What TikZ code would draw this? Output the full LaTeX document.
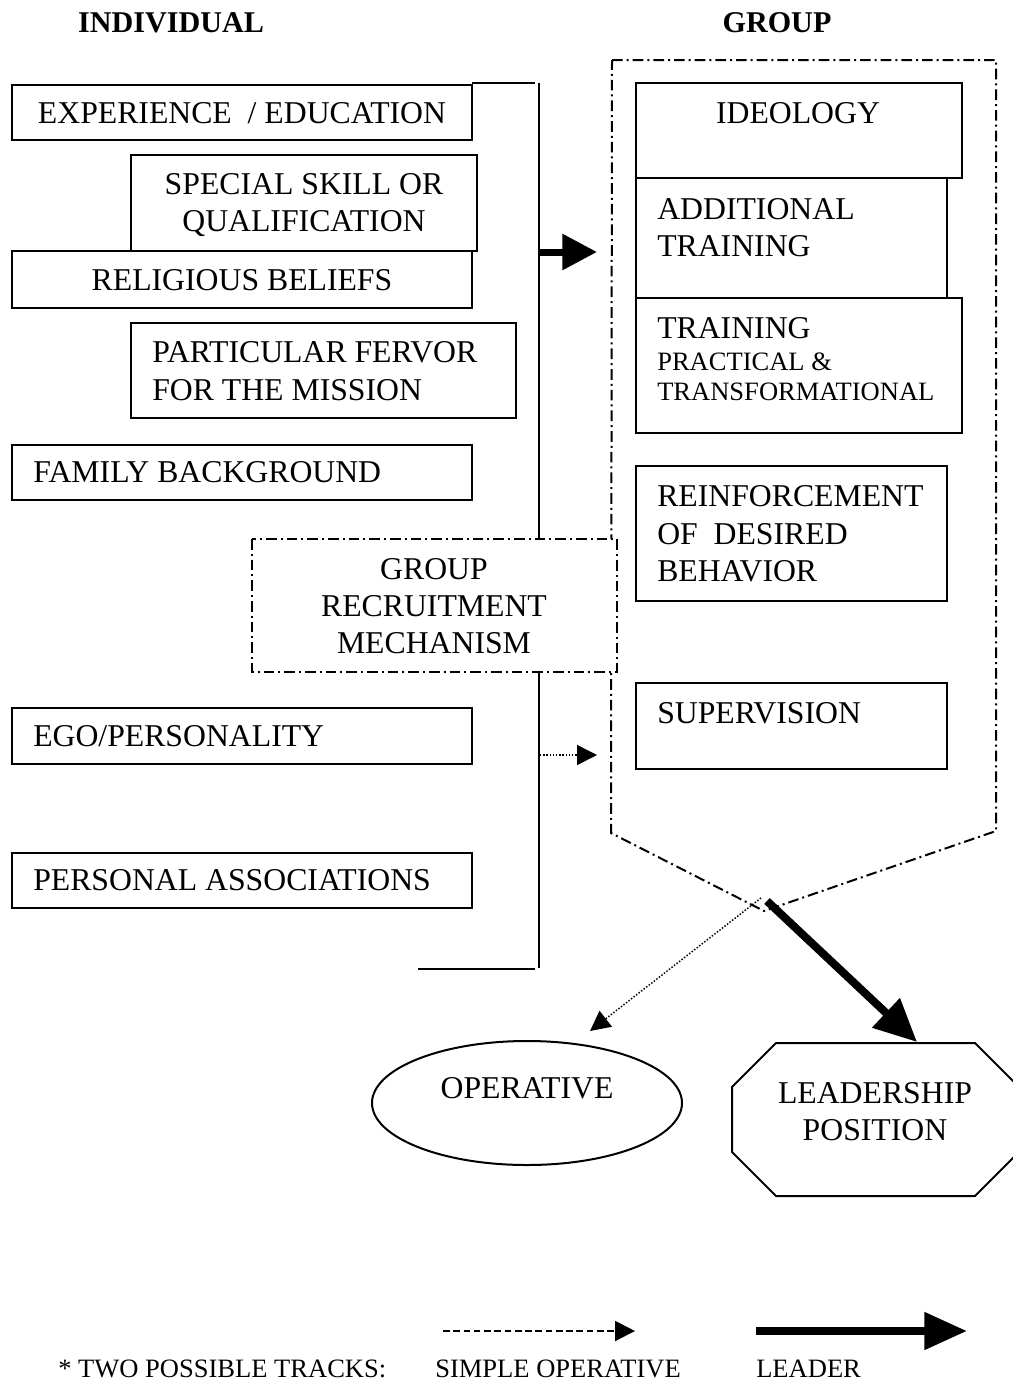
\documentclass[tikz,border=0pt]{standalone}
\usepackage{fontspec}
\setmainfont{Liberation Serif}
\usetikzlibrary{arrows.meta,shapes.geometric}

\newcommand\mainsz{\fontsize{23.8pt}{28pt}\selectfont}
\newcommand\smallsz{\fontsize{19.9pt}{24pt}\selectfont}
\newcommand\headsz{\fontsize{22.6pt}{27pt}\selectfont\bfseries}

% rectangle node from its corner coordinates: [options]{name}{x1}{y1}{x2}{y2}
\newcommand\boxat[6][]{%
  \node[box,#1,minimum width={(#5-#3)*0.75pt},minimum height={(#6-#4)*0.75pt}]
    (#2) at ({(#3+#5)/2},{(#4+#6)/2}) {};}

\tikzset{
  box/.style={draw, line width=1.5pt, inner sep=0pt, outer sep=0pt},
  dashdot/.style={line width=1.5pt, dash pattern=on 8pt off 3pt on 1.5pt off 3pt},
  txt/.style={inner sep=0pt, font=\mainsz},
  smalltxt/.style={inner sep=0pt, font=\smallsz},
  headtxt/.style={inner sep=0pt, font=\headsz},
  bracket/.style={line width=1.5pt},
  dotline/.style={line width=1.1pt, dash pattern=on 1.1pt off 1.3pt},
  joinarrow/.style={line width=5.25pt, -{Triangle[length=26pt,width=26pt]}},
  leaderarrow/.style={line width=6pt, -{Triangle[length=32pt,width=29pt]}},
  legendlead/.style={line width=6pt, -{Triangle[length=32pt,width=27pt]}},
  operarrow/.style={dotline, -{Triangle[length=15pt,width=15pt]}},
  legendoper/.style={line width=1.5pt, dash pattern=on 5pt off 2.7pt,
                     -{Triangle[length=15pt,width=15pt]}},
}

\begin{document}
\begin{tikzpicture}[x=0.75pt,y=-0.75pt]
\useasboundingbox (0,0) rectangle (1013,1382);

% headings
\node[headtxt, anchor=base] (hind) at (171,32) {INDIVIDUAL};
\node[headtxt, anchor=base] (hgrp) at (777,32) {GROUP};

% individual factors
\boxat{exp}{12}{85}{472}{140}
\node[txt, anchor=base] (exp-t) at (242,123.5) {EXPERIENCE\ \ / EDUCATION};
\boxat{skill}{131}{155}{477}{251}
\node[txt, anchor=base] (skill-t1) at (304,194.5) {SPECIAL SKILL OR};
\node[txt, anchor=base] (skill-t2) at (304,231.5) {QUALIFICATION};
\boxat{rel}{12}{251}{472}{308}
\node[txt, anchor=base] (rel-t) at (242,290.5) {RELIGIOUS BELIEFS};
\boxat{fervor}{131}{323}{516}{418}
\node[txt, anchor=base west] (fervor-t1) at (152,362.5) {PARTICULAR FERVOR};
\node[txt, anchor=base west] (fervor-t2) at (152,400.5) {FOR THE MISSION};
\boxat{fam}{12}{445}{472}{500}
\node[txt, anchor=base west] (fam-t) at (33,482.5) {FAMILY BACKGROUND};
\boxat{ego}{12}{708}{472}{764}
\node[txt, anchor=base west] (ego-t) at (33,746.5) {EGO/PERSONALITY};
\boxat{assoc}{12}{853}{472}{908}
\node[txt, anchor=base west] (assoc-t) at (33,890.5) {PERSONAL ASSOCIATIONS};

% bracket gathering the individual factors
\coordinate (brk-top) at (539,83);
\coordinate (brk-bot) at (539,968);
\coordinate (brk-topend) at (472,83);
\coordinate (brk-topin) at (535,83);
\coordinate (brk-botend) at (418,969);
\coordinate (brk-botin) at (535,969);
\draw[bracket] (brk-topend) -- (brk-topin);
\draw[bracket] (brk-top) -- (brk-bot);
\draw[bracket] (brk-botend) -- (brk-botin);

% group frame
\coordinate (g-tl) at (612,60);
\coordinate (g-tr) at (996,60);
\coordinate (g-br) at (996,831);
\coordinate (g-apex) at (764,911);
\coordinate (g-bl) at (611,833);
\draw[dashdot] (g-tl) -- (g-tr) -- (g-br) -- (g-apex) -- (g-bl) -- cycle;

% group factors
\boxat{ideo}{636}{83}{962}{178}
\node[txt, anchor=base] (ideo-t) at (798,123.5) {IDEOLOGY};
\boxat{addtr}{636}{178}{947}{298}
\node[txt, anchor=base west] (addtr-t1) at (657,219.5) {ADDITIONAL};
\node[txt, anchor=base west] (addtr-t2) at (657,256.5) {TRAINING};
\boxat{train}{636}{298}{962}{433}
\node[txt, anchor=base west] (train-t1) at (657,338.5) {TRAINING};
\node[smalltxt, anchor=base west] (train-t2) at (657,370.8) {PRACTICAL \&};
\node[smalltxt, anchor=base west] (train-t3) at (657,400.8) {TRANSFORMATIONAL};
\boxat{reinf}{636}{466}{947}{601}
\node[txt, anchor=base west] (reinf-t1) at (657,506.5) {REINFORCEMENT};
\node[txt, anchor=base west] (reinf-t2) at (657,544.5) {OF\ \ DESIRED};
\node[txt, anchor=base west] (reinf-t3) at (657,581.5) {BEHAVIOR};
\boxat{superv}{636}{683}{947}{769}
\node[txt, anchor=base west] (superv-t) at (657,723.5) {SUPERVISION};

% recruitment mechanism, laid over the bracket and the frame
\boxat[draw=none, fill=white]{recruit}{252}{539}{617}{672}
\draw[dashdot] (recruit.north west) rectangle (recruit.south east);
\node[txt, anchor=base] (recruit-t1) at (434,579.5) {GROUP};
\node[txt, anchor=base] (recruit-t2) at (434,616.5) {RECRUITMENT};
\node[txt, anchor=base] (recruit-t3) at (434,653.5) {MECHANISM};

% entry arrows into the group
\coordinate (brk-mid) at (539,252);
\coordinate (grp-in) at (597,252);
\draw[joinarrow] (brk-mid) -- (grp-in);
\coordinate (brk-low) at (540,755);
\coordinate (grp-in2) at (597,755);
\draw[operarrow] (brk-low) -- (grp-in2);

% outcomes
\node[draw, ellipse, line width=1.5pt, minimum width={310*0.75pt},
      minimum height={124*0.75pt}, inner sep=0pt] (oper) at (527,1103) {};
\node[txt, anchor=base] (oper-t) at (527,1098.5) {OPERATIVE};

\node[inner sep=0pt, minimum width={287*0.75pt}, minimum height={153*0.75pt}]
  (lead) at (875.5,1119.5) {};
\draw[line width=1.5pt] (776,1043) -- (975,1043) -- (1019,1087) -- (1019,1152)
  -- (975,1196) -- (776,1196) -- (732,1152) -- (732,1087) -- cycle;
\node[txt, anchor=base] (lead-t1) at (875,1103.5) {LEADERSHIP};
\node[txt, anchor=base] (lead-t2) at (875,1140.5) {POSITION};

% tracks leaving the group
\coordinate (out-lead) at (767,901);
\coordinate (lead-in) at (917,1042);
\draw[leaderarrow] (out-lead) -- (lead-in);
\coordinate (out-oper) at (761,898);
\coordinate (oper-in) at (590,1031);
\draw[operarrow] (out-oper) -- (oper-in);

% legend
\coordinate (leg-o1) at (443,1331);
\coordinate (leg-o2) at (635,1331);
\draw[legendoper] (leg-o1) -- (leg-o2);
\coordinate (leg-l1) at (756,1331);
\coordinate (leg-l2) at (967,1331);
\draw[legendlead] (leg-l1) -- (leg-l2);
\node[smalltxt, anchor=base west] (leg-t1) at (58,1377) {* TWO POSSIBLE TRACKS:};
\node[smalltxt, anchor=base west] (leg-t2) at (435,1377) {SIMPLE OPERATIVE};
\node[smalltxt, anchor=base west] (leg-t3) at (756,1377) {LEADER};
\end{tikzpicture}
\end{document}
